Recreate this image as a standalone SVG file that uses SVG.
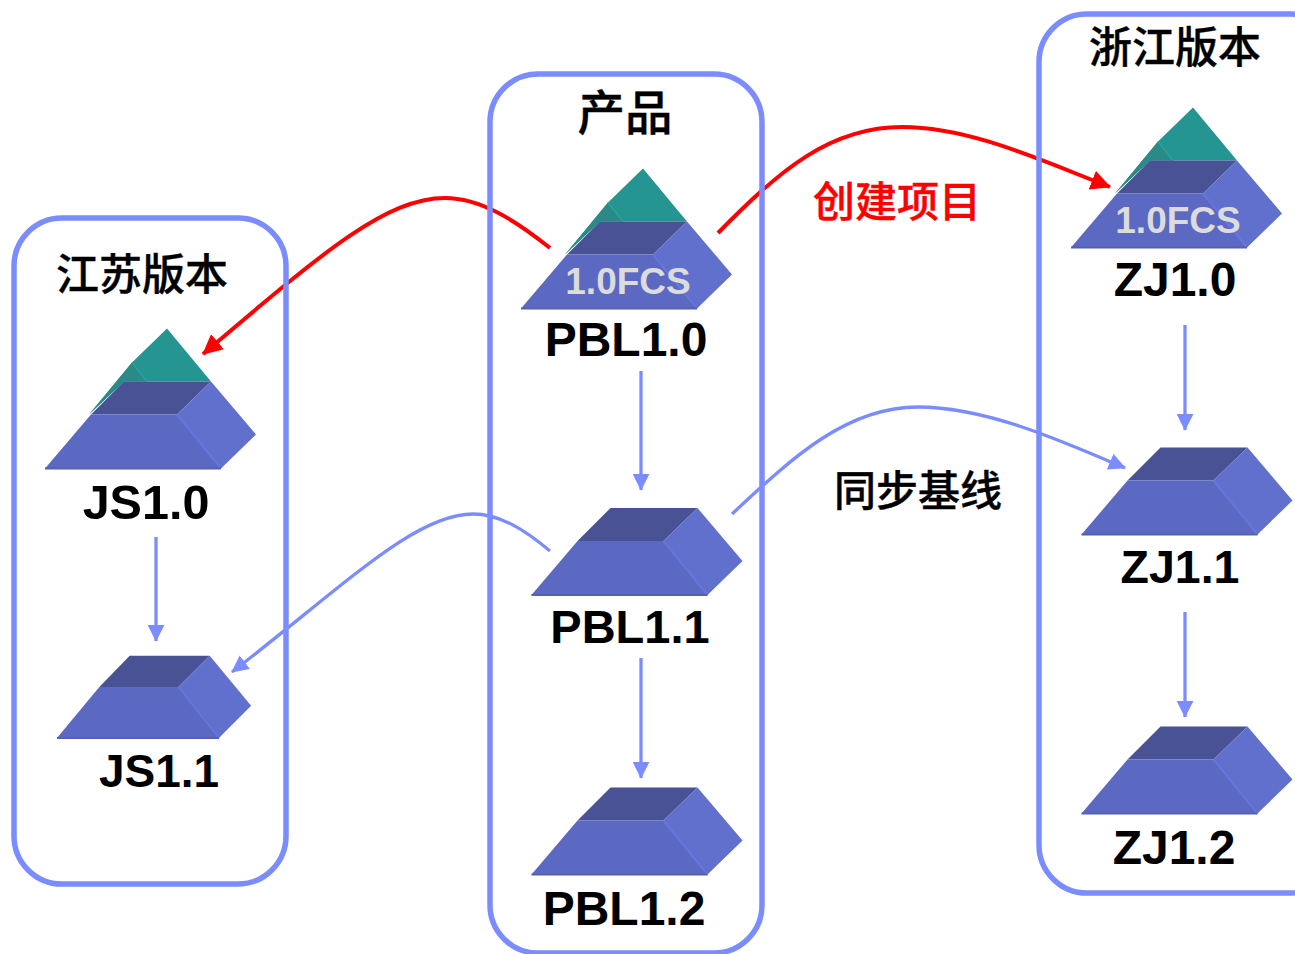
<svg xmlns="http://www.w3.org/2000/svg" width="1295" height="954" viewBox="0 0 1295 954">
<style>
.box{fill:none;stroke:#7b8cff;stroke-width:5.5}
.name{font:bold 48px "Liberation Sans",Arial,sans-serif;fill:#000;text-anchor:middle}
.fcs{font:bold 37px "Liberation Sans",Arial,sans-serif;fill:#dcdcdc;text-anchor:middle}
.cjk{font:500 43px "Noto Sans CJK SC","Noto Sans",sans-serif;fill:#000;stroke:#000;stroke-width:.4;text-anchor:middle}
.small{font-size:42px}
.redt{fill:#f00;stroke:#f00}
.blue{fill:none;stroke:#7b8cff;stroke-width:3.3}
.red{fill:none;stroke:#f00;stroke-width:4}
</style>
<defs>
<marker id="ab" viewBox="0 0 10 10" refX="9.5" refY="5" markerUnits="userSpaceOnUse" markerWidth="17" markerHeight="17" orient="auto"><path d="M0 0L10 5L0 10z" fill="#7b8cff"/></marker>
<marker id="ar" viewBox="0 0 10 10" refX="9.5" refY="5" markerUnits="userSpaceOnUse" markerWidth="20" markerHeight="20" orient="auto"><path d="M0 0L10 5L0 10z" fill="#f00"/></marker>
<g id="frustum">
<path d="M46 -54L79 -87H166L132 -54z" fill="#495295"/>
<path d="M132 -54L166 -87L211 -34L176 0z" fill="#6170cd"/>
<path d="M0 0L46 -54H132L176 0z" fill="#5c69c2"/>
<path d="M132 -54L176 0" fill="none" stroke="#6676dc" stroke-width="2"/>
<path d="M0 0H176" fill="none" stroke="#5560b0" stroke-width="2"/>
</g>
<g id="pyramid">
<path d="M122 -140L166 -87H79L44 -54L87 -106z" fill="#249590"/>
<path d="M87 -106L44 -54L79 -87H102z" fill="#2a8a88"/>
<path d="M87 -106L102 -87" fill="none" stroke="#2aa09a" stroke-width="2"/>
<use href="#frustum"/>
</g>
</defs>
<g id="connectors">
<path class="red" d="M550 248C515 220 480 198 445 198C385 198 320 255 203 354" marker-end="url(#ar)"/>
<path class="red" d="M718 233C780 170 830 127 902 127C970 127 1040 160 1110 187" marker-end="url(#ar)"/>
<path class="blue" d="M550 551C525 530 500 514 473 514C415 514 345 585 232 672" marker-end="url(#ab)"/>
<path class="blue" d="M732 514C790 460 845 407 918 407C985 407 1060 440 1125 468" marker-end="url(#ab)"/>
<path class="blue" d="M641 371V490" marker-end="url(#ab)"/>
<path class="blue" d="M641 658V778" marker-end="url(#ab)"/>
<path class="blue" d="M156 537V641" marker-end="url(#ab)"/>
<path class="blue" d="M1185 325V430" marker-end="url(#ab)"/>
<path class="blue" d="M1185 612V717" marker-end="url(#ab)"/>
</g>
<g id="group-js"><rect class="box" x="14" y="218" width="272" height="666" rx="48"/><text class="cjk" x="142" y="290">江苏版本</text></g>
<g id="group-product"><rect class="box" x="490" y="74" width="272" height="879" rx="48"/><text class="cjk" x="625" y="130" style="font-size:47.5px">产品</text></g>
<g id="group-zj"><rect class="box" x="1039" y="14" width="300" height="879" rx="48"/><text class="cjk" x="1175" y="63">浙江版本</text></g>
<g id="label-create"><text class="cjk small redt" x="897" y="217">创建项目</text></g>
<g id="label-sync"><text class="cjk small" x="918" y="506">同步基线</text></g>
<g id="PBL1.0"><use href="#pyramid" transform="translate(521 308.5)"/><text class="fcs" x="628" y="294">1.0FCS</text><text class="name" x="626" y="356">PBL1.0</text></g>
<g id="PBL1.1"><use href="#frustum" transform="translate(531.5 595)"/><text class="name" x="630" y="643" style="font-size:47px">PBL1.1</text></g>
<g id="PBL1.2"><use href="#frustum" transform="translate(531.5 874.5)"/><text class="name" x="624" y="925">PBL1.2</text></g>
<g id="JS1.0"><use href="#pyramid" transform="translate(45 468.5)"/><text class="name" x="146" y="519" style="font-size:48.5px">JS1.0</text></g>
<g id="JS1.1"><use href="#frustum" transform="translate(57 738) scale(.92 .945)"/><text class="name" x="159" y="787" style="font-size:46px">JS1.1</text></g>
<g id="ZJ1.0"><use href="#pyramid" transform="translate(1071 247.5)"/><text class="fcs" x="1178" y="233">1.0FCS</text><text class="name" x="1175" y="296">ZJ1.0</text></g>
<g id="ZJ1.1"><use href="#frustum" transform="translate(1081.5 534.5)"/><text class="name" x="1180" y="583" style="font-size:46.5px">ZJ1.1</text></g>
<g id="ZJ1.2"><use href="#frustum" transform="translate(1081.5 813.5)"/><text class="name" x="1174" y="864">ZJ1.2</text></g>
</svg>
